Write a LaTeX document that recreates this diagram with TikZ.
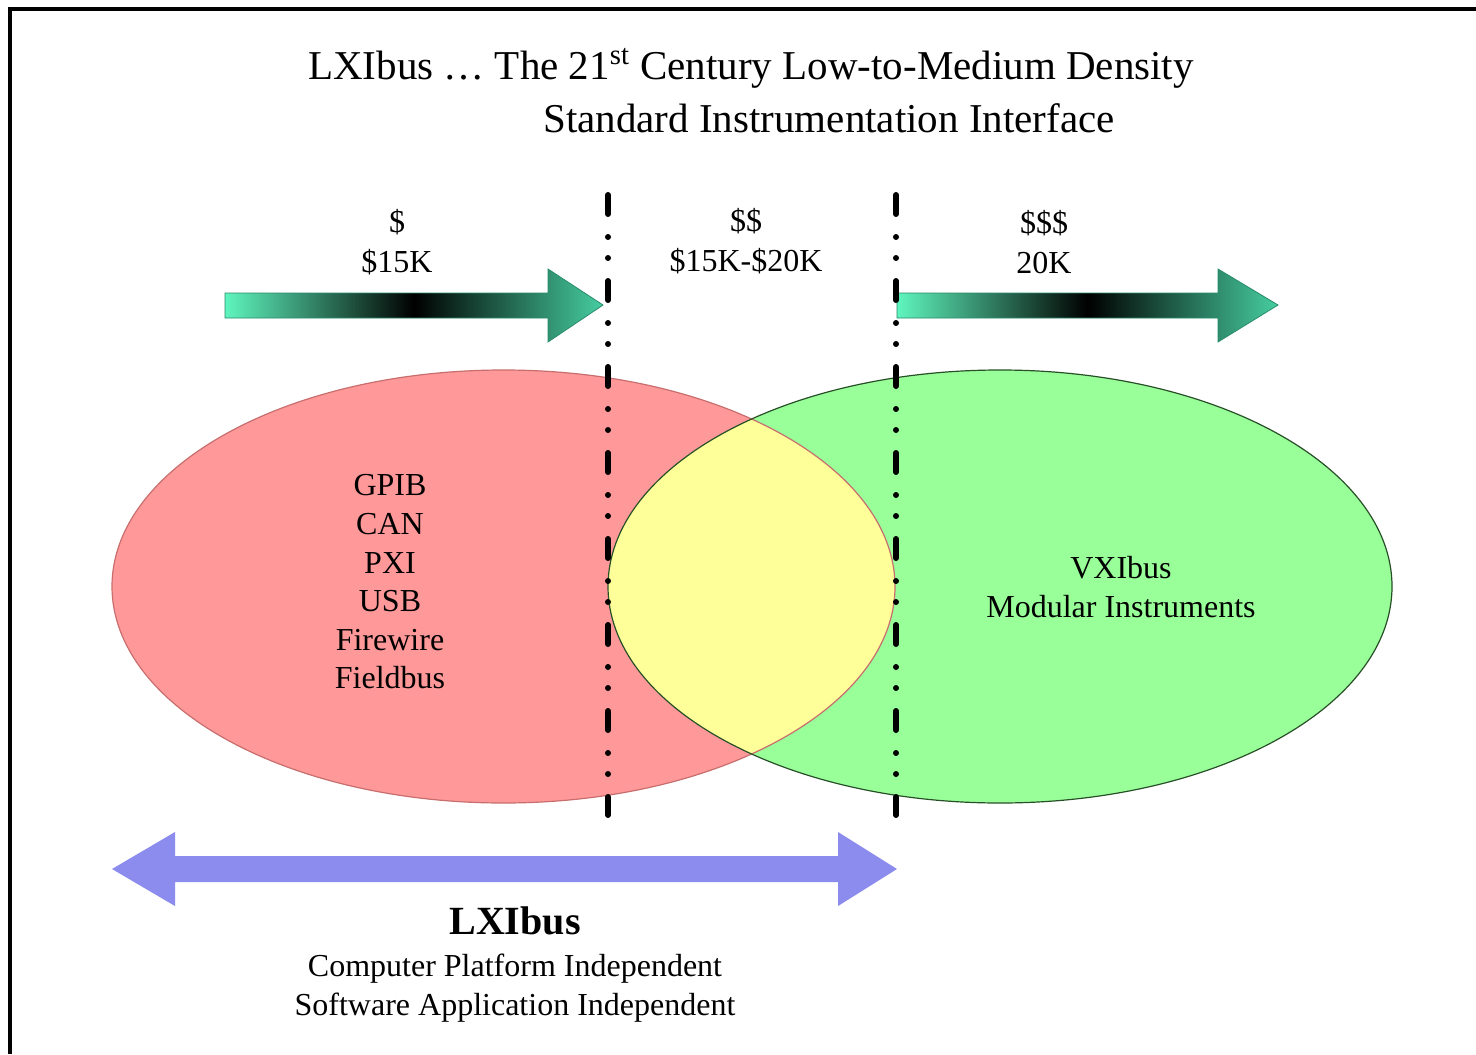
\documentclass[tikz,border=0pt]{standalone}
\usepackage{fontspec}
\setmainfont{Liberation Serif}
\usepackage{xcolor}
\usepackage{tikz}

\definecolor{lxred}{RGB}{255,153,153}
\definecolor{lxredline}{RGB}{200,110,110}
\definecolor{lxgreen}{RGB}{153,255,153}
\definecolor{lxgreenline}{RGB}{40,80,40}
\definecolor{lxyellow}{RGB}{255,255,153}
\definecolor{lxblue}{RGB}{140,140,238}
\definecolor{mintleft}{RGB}{95,245,190}
\definecolor{mintright}{RGB}{70,205,160}
\definecolor{mintline}{RGB}{40,140,110}

\begin{document}
\begin{tikzpicture}[x=0.5pt,y=-0.5pt]
    \tikzstyle{every node}+=[inner sep=0pt, align=center]
    \tikzstyle{lbl}=[font=\fontsize{16}{19.3}\selectfont]
    \tikzstyle{price}=[font=\fontsize{16}{20}\selectfont]
    \tikzstyle{ttl}=[font=\fontsize{20.5}{25}\selectfont]
    \tikzstyle{divider}=[black, line width=3pt, line cap=round,
        dash pattern=on 9.5pt off 11.5pt on 0pt off 10.5pt on 0pt off 11.5pt]
    \tikzstyle{gradarrow}=[left color=mintleft, right color=mintright,
        middle color=black, draw=mintline, line width=0.4pt]
    \useasboundingbox (0,0) rectangle (1476,1054);
    \fill [white] (0,0) rectangle (1476,1054);
    % frame
    \draw [black, line width=2pt] (10,1054) -- (10,9) -- (1476,9);
    % title
    \node [ttl] (title1) at (751,68) {LXIbus … The 21\textsuperscript{st} Century Low-to-Medium Density};
    \node [ttl] (title2) at (829,118) {Standard Instrumentation Interface};
    % price arrows
    \shade [gradarrow] (225,293) -- (548,293) -- (548,269) -- (603,305)
        -- (548,342) -- (548,318) -- (225,318) -- cycle;
    \shade [gradarrow] (897,293) -- (1218,293) -- (1218,269) -- (1278,305)
        -- (1218,342) -- (1218,318) -- (897,318) -- cycle;
    \node [price] (low) at (397,242) {\$\\\$15K};
    \node [price] (mid) at (746,241) {\$\$\\\$15K-\$20K};
    \node [price] (high) at (1044,242) {\$\$\$\\20K};
    % venn
    \fill [lxred] (503.5,586.5) ellipse [x radius=391.5, y radius=216.5];
    \fill [lxgreen] (1000,586.5) ellipse [x radius=392, y radius=216.5];
    \begin{scope}
        \clip (503.5,586.5) ellipse [x radius=391.5, y radius=216.5];
        \fill [lxyellow] (1000,586.5) ellipse [x radius=392, y radius=216.5];
    \end{scope}
    \draw [lxredline, line width=0.6pt] (503.5,586.5) ellipse [x radius=391.5, y radius=216.5];
    \draw [lxgreenline, line width=0.6pt] (1000,586.5) ellipse [x radius=392, y radius=216.5];
    \node [lbl] (buses) at (390,582) {GPIB\\CAN\\PXI\\USB\\Firewire\\Fieldbus};
    \node [lbl] (vxi) at (1121,587) {VXIbus\\Modular Instruments};
    % dividers
    \coordinate (d1top) at (608,195);
    \coordinate (d1bot) at (608,815);
    \coordinate (d2top) at (896,195);
    \coordinate (d2bot) at (896,815);
    \draw [divider] (d1top) -- (d1bot);
    \draw [divider] (d2top) -- (d2bot);
    % lxi span
    \fill [lxblue] (112,869) -- (175,832) -- (175,856) -- (838,856) -- (838,832)
        -- (897,869) -- (838,906) -- (838,882) -- (175,882) -- (175,906) -- cycle;
    \node [font=\fontsize{20}{24}\selectfont\bfseries] (lxi) at (515,921) {LXIbus};
    \node [lbl] (indep) at (515,988) {Computer Platform Independent\\Software Application Independent};
\end{tikzpicture}
\end{document}
